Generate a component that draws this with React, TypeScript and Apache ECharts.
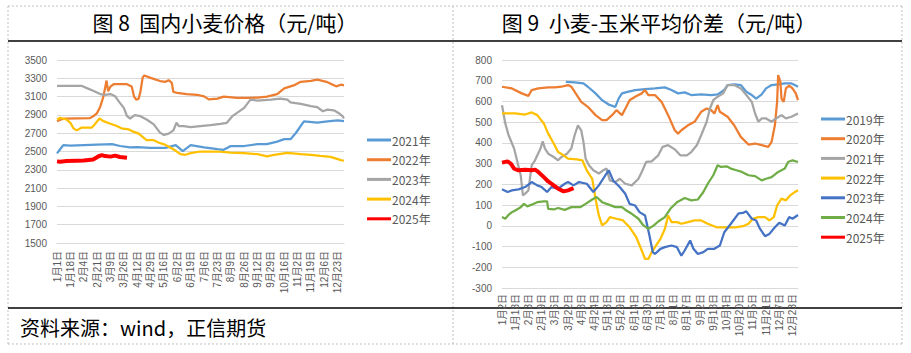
import React, { useEffect, useRef } from 'react';
import * as echarts from 'echarts';

// ---------- tick labels ----------
const leftTicks = ['1月1日', '1月18日', '2月4日', '2月21日', '3月9日', '3月26日', '4月12日', '4月29日', '5月16日', '6月2日', '6月19日', '7月6日', '7月23日', '8月9日', '8月26日', '9月12日', '9月29日', '10月16日', '11月2日', '11月19日', '12月6日', '12月23日'];
const rightTicks = ['1月2日', '1月18日', '2月3日', '2月19日', '3月6日', '3月22日', '4月8日', '4月24日', '5月13日', '5月29日', '6月14日', '6月30日', '7月16日', '8月1日', '8月17日', '9月2日', '9月18日', '10月4日', '10月20日', '11月5日', '11月21日', '12月7日', '12月23日'];
const LEFT_COUNT = 366;
const LEFT_STEP = 17;
const RIGHT_COUNT = 270;
const RIGHT_STEP = 12;

// ---------- 图8 国内小麦价格 [day index, 元/吨] ----------
const wheat2021 = [[0, 2480], [4, 2525], [8, 2570], [17, 2565], [34, 2570], [51, 2575], [70, 2580], [80, 2560], [93, 2545], [102, 2548], [119, 2540], [138, 2540], [151, 2570], [160, 2505], [170, 2570], [187, 2545], [204, 2525], [212, 2518], [221, 2560], [238, 2560], [255, 2580], [267, 2580], [280, 2608], [289, 2635], [297, 2635], [304, 2705], [314, 2830], [321, 2825], [331, 2815], [344, 2830], [357, 2840], [365, 2832]];
const wheat2022 = [[0, 2830], [5, 2850], [10, 2860], [42, 2865], [46, 2885], [51, 2920], [55, 2990], [59, 3100], [63, 3275], [65, 3160], [68, 3210], [72, 3235], [89, 3235], [95, 3210], [98, 3100], [101, 3065], [104, 3080], [106, 3150], [109, 3310], [111, 3330], [119, 3305], [131, 3270], [138, 3262], [142, 3280], [146, 3250], [148, 3150], [153, 3140], [165, 3128], [178, 3120], [187, 3103], [193, 3070], [204, 3078], [212, 3100], [229, 3085], [242, 3085], [255, 3090], [267, 3100], [280, 3128], [289, 3190], [301, 3222], [310, 3262], [323, 3272], [331, 3285], [344, 3258], [355, 3212], [361, 3230], [365, 3222]];
const wheat2023 = [[0, 3218], [31, 3218], [38, 3193], [46, 3164], [55, 3128], [61, 3120], [68, 3128], [74, 3103], [80, 3031], [85, 2977], [89, 2886], [93, 2861], [99, 2897], [106, 2886], [114, 2850], [123, 2796], [131, 2706], [136, 2681], [142, 2695], [148, 2731], [152, 2814], [155, 2778], [161, 2778], [170, 2767], [182, 2778], [195, 2789], [208, 2803], [216, 2814], [223, 2886], [229, 2922], [238, 2977], [246, 3067], [255, 3056], [272, 3067], [284, 3078], [293, 3067], [297, 3038], [310, 3020], [323, 2995], [331, 2984], [338, 2940], [344, 2958], [352, 2950], [358, 2922], [363, 2886], [365, 2861]];
const wheat2024 = [[0, 2850], [4, 2868], [12, 2850], [17, 2814], [21, 2753], [25, 2731], [31, 2760], [44, 2760], [48, 2796], [54, 2861], [59, 2832], [68, 2803], [76, 2778], [82, 2753], [91, 2742], [97, 2717], [104, 2695], [110, 2652], [114, 2623], [123, 2623], [129, 2598], [138, 2572], [148, 2525], [157, 2471], [163, 2464], [170, 2482], [182, 2500], [204, 2500], [221, 2489], [238, 2482], [255, 2471], [267, 2446], [276, 2464], [293, 2486], [310, 2471], [323, 2464], [335, 2453], [348, 2442], [361, 2406], [365, 2399]];
const wheat2025 = [[0, 2392], [4, 2388], [12, 2395], [25, 2400], [34, 2402], [46, 2412], [53, 2448], [57, 2460], [61, 2450], [68, 2444], [74, 2455], [80, 2440], [89, 2432]];

// ---------- 图9 小麦-玉米平均价差 [trading-day index, 元/吨] ----------
const spread2019 = [[58, 695], [66, 692], [74, 687], [78, 671], [85, 639], [91, 606], [97, 585], [103, 574], [106, 614], [109, 639], [115, 647], [121, 655], [130, 660], [139, 663], [148, 668], [154, 655], [160, 639], [166, 644], [172, 631], [181, 634], [190, 631], [196, 634], [202, 655], [205, 679], [211, 682], [217, 679], [222, 647], [227, 631], [231, 614], [236, 634], [240, 663], [245, 679], [251, 682], [257, 687], [263, 687], [266, 679], [269, 671]];
const spread2020 = [[0, 671], [9, 663], [18, 639], [24, 627], [27, 655], [33, 663], [42, 668], [48, 668], [54, 671], [60, 679], [63, 671], [68, 631], [72, 598], [78, 574], [85, 534], [91, 510], [95, 510], [100, 534], [104, 558], [109, 534], [113, 574], [116, 606], [121, 623], [127, 639], [130, 655], [133, 631], [139, 631], [145, 598], [151, 534], [157, 461], [160, 445], [163, 461], [169, 485], [175, 502], [181, 550], [186, 566], [190, 558], [193, 542], [196, 582], [198, 550], [205, 526], [211, 485], [217, 429], [224, 392], [230, 397], [236, 389], [242, 381], [245, 405], [248, 485], [250, 598], [251, 727], [253, 695], [254, 614], [256, 598], [258, 663], [261, 676], [264, 663], [267, 639], [269, 606]];
const spread2021 = [[0, 582], [3, 494], [6, 437], [11, 373], [14, 308], [17, 244], [19, 147], [21, 155], [24, 171], [27, 292], [30, 316], [35, 373], [37, 408], [39, 373], [42, 348], [47, 332], [51, 316], [54, 332], [59, 348], [63, 373], [66, 437], [69, 485], [72, 461], [74, 405], [76, 324], [79, 292], [83, 268], [88, 252], [92, 268], [95, 276], [98, 219], [103, 211], [107, 227], [112, 203], [118, 195], [124, 227], [127, 260], [131, 308], [136, 311], [142, 340], [146, 381], [151, 389], [157, 369], [162, 340], [168, 340], [172, 356], [177, 389], [181, 437], [186, 502], [189, 566], [192, 606], [196, 623], [201, 639], [205, 679], [211, 679], [217, 663], [222, 631], [227, 598], [230, 542], [233, 502], [236, 518], [240, 518], [245, 502], [249, 518], [254, 534], [258, 518], [263, 526], [269, 542]];
const spread2022 = [[0, 542], [12, 542], [21, 537], [27, 547], [32, 534], [38, 494], [42, 445], [47, 397], [51, 356], [56, 340], [60, 324], [68, 321], [73, 316], [77, 268], [82, 227], [85, 131], [88, 50], [91, 2], [95, 18], [98, 42], [104, 34], [110, 26], [116, -7], [122, -55], [127, -119], [130, -160], [133, -160], [136, -127], [139, -103], [144, -63], [148, -15], [151, 50], [154, 18], [159, 18], [163, 10], [169, 18], [175, 26], [181, 26], [187, 10], [195, -7], [202, -7], [212, -7], [219, -2], [224, 10], [228, 34], [233, 42], [239, 42], [243, 26], [247, 42], [250, 98], [254, 131], [258, 123], [262, 147], [266, 163], [269, 171]];
const spread2023 = [[0, 176], [5, 163], [9, 171], [15, 176], [21, 187], [27, 211], [32, 195], [36, 187], [41, 163], [45, 187], [51, 179], [57, 203], [60, 211], [65, 195], [70, 211], [77, 203], [83, 163], [88, 195], [94, 244], [97, 268], [101, 219], [107, 187], [112, 155], [116, 106], [121, 98], [125, 66], [130, 50], [134, -47], [137, -127], [139, -136], [144, -111], [148, -103], [154, -95], [159, -103], [163, -144], [166, -119], [171, -71], [174, -111], [178, -136], [183, -127], [187, -111], [193, -111], [198, -95], [202, -31], [208, 10], [215, 60], [219, 62], [222, 70], [227, 34], [231, 26], [234, -10], [239, -50], [243, -39], [248, -7], [252, 15], [257, 2], [261, 42], [264, 34], [269, 52]];
const spread2024 = [[0, 42], [3, 34], [6, 53], [9, 66], [12, 74], [17, 90], [20, 106], [23, 94], [27, 102], [32, 114], [38, 118], [41, 118], [42, 82], [47, 79], [51, 86], [57, 77], [63, 90], [71, 90], [76, 106], [82, 127], [86, 139], [91, 114], [97, 102], [103, 90], [109, 90], [113, 74], [118, 58], [124, 34], [128, 5], [133, -15], [138, 2], [142, 21], [148, 42], [153, 82], [159, 114], [166, 134], [172, 123], [178, 127], [183, 163], [187, 203], [192, 244], [196, 292], [199, 284], [204, 287], [208, 276], [213, 268], [218, 260], [224, 244], [230, 240], [236, 219], [240, 227], [245, 235], [251, 260], [257, 276], [260, 308], [264, 316], [269, 308]];
const spread2025 = [[0, 305], [5, 311], [8, 300], [11, 276], [15, 268], [21, 271], [27, 268], [30, 271], [33, 260], [38, 235], [42, 214], [47, 195], [51, 179], [56, 166], [60, 171], [65, 182]];

const leftSeries = [
  { name: 'A2021年', data: wheat2021, color: '#5B9BD5', width: 2.25 },
  { name: 'A2022年', data: wheat2022, color: '#ED7D31', width: 2.25 },
  { name: 'A2023年', data: wheat2023, color: '#A5A5A5', width: 2.25 },
  { name: 'A2024年', data: wheat2024, color: '#FFC000', width: 2.25 },
  { name: 'A2025年', data: wheat2025, color: '#FF0000', width: 4 },
];
const rightSeries = [
  { name: 'B2019年', data: spread2019, color: '#5B9BD5', width: 2.25 },
  { name: 'B2020年', data: spread2020, color: '#ED7D31', width: 2.25 },
  { name: 'B2021年', data: spread2021, color: '#A5A5A5', width: 2.25 },
  { name: 'B2022年', data: spread2022, color: '#FFC000', width: 2.25 },
  { name: 'B2023年', data: spread2023, color: '#4472C4', width: 2.25 },
  { name: 'B2024年', data: spread2024, color: '#70AD47', width: 2.25 },
  { name: 'B2025年', data: spread2025, color: '#FF0000', width: 4 },
];

const FONT = '"Liberation Sans", "Noto Sans CJK SC", sans-serif';
const CJK = '"Noto Sans CJK SC", sans-serif';
const GRID_COLOR = '#D9D9D9';
const LABEL_COLOR = '#595959';

export default function App() {
  const ref = useRef<HTMLDivElement>(null);
  useEffect(() => {
    if (!ref.current) return;
    const chart = echarts.init(ref.current, undefined, { renderer: 'svg' });
    const leftCats = Array.from({ length: LEFT_COUNT }, (_, i) => String(i));
    const rightCats = Array.from({ length: RIGHT_COUNT }, (_, i) => String(i));
    const dashed = { stroke: '#BFBFBF', lineWidth: 1, lineDash: [2, 2] };
    const solid = { stroke: '#000000', lineWidth: 1.5 };
    const mkSeries = (s: any, idx: number) => ({
      type: 'line',
      name: s.name,
      xAxisIndex: idx,
      yAxisIndex: idx,
      data: s.data,
      symbol: 'none',
      showSymbol: false,
      lineStyle: { color: s.color, width: s.width },
      itemStyle: { color: s.color },
    });
    const legendCommon = {
      orient: 'vertical',
      icon: 'rect',
      itemWidth: 24,
      itemHeight: 3,
      itemGap: 7.7,
      formatter: (n: string) => n.slice(1),
      textStyle: { fontSize: 12, color: LABEL_COLOR, fontFamily: CJK, padding: [0, 0, 0, -4] },
    };
    const yLabel = { margin: 10, fontSize: 10, color: LABEL_COLOR, fontFamily: FONT, formatter: (v: number) => String(v) };
    chart.setOption({
      animation: false,
      backgroundColor: '#ffffff',
      grid: [
        { left: 57, top: 60, width: 287, height: 183, containLabel: false, outerBoundsMode: 'none' },
        { left: 502, top: 60, width: 296, height: 228, containLabel: false, outerBoundsMode: 'none' },
      ],
      xAxis: [
        {
          gridIndex: 0,
          type: 'category',
          data: leftCats,
          boundaryGap: false,
          axisLine: { show: true, lineStyle: { color: GRID_COLOR } },
          axisTick: { show: false },
          splitLine: { show: false },
          axisLabel: {
            interval: LEFT_STEP - 1,
            rotate: 90,
            margin: 8,
            fontSize: 10,
            color: LABEL_COLOR,
            fontFamily: FONT,
            formatter: (v: string) => leftTicks[Number(v) / LEFT_STEP] ?? '',
          },
        },
        {
          gridIndex: 1,
          type: 'category',
          data: rightCats,
          boundaryGap: false,
          axisLine: { show: true, onZero: true, lineStyle: { color: GRID_COLOR } },
          axisTick: { show: false },
          splitLine: { show: false },
          axisLabel: {
            interval: RIGHT_STEP - 1,
            rotate: 90,
            margin: 6,
            fontSize: 10,
            color: LABEL_COLOR,
            fontFamily: FONT,
            formatter: (v: string) => rightTicks[Number(v) / RIGHT_STEP] ?? '',
          },
        },
      ],
      yAxis: [
        {
          gridIndex: 0,
          type: 'value',
          min: 1500,
          max: 3500,
          interval: 200,
          axisLine: { show: false },
          axisTick: { show: false },
          splitLine: { lineStyle: { color: GRID_COLOR, width: 1 } },
          axisLabel: yLabel,
        },
        {
          gridIndex: 1,
          type: 'value',
          min: -300,
          max: 800,
          interval: 100,
          axisLine: { show: false },
          axisTick: { show: false },
          splitLine: { lineStyle: { color: GRID_COLOR, width: 1 } },
          axisLabel: yLabel,
        },
      ],
      legend: [
        { ...legendCommon, left: 362, top: 129, data: leftSeries.map((s) => s.name) },
        { ...legendCommon, left: 816, top: 108, data: rightSeries.map((s) => s.name) },
      ],
      series: [...leftSeries.map((s) => mkSeries(s, 0)), ...rightSeries.map((s) => mkSeries(s, 1))],
      graphic: [
        { type: 'line', shape: { x1: 8, y1: 6, x2: 902, y2: 6 }, style: dashed, silent: true },
        { type: 'line', shape: { x1: 8, y1: 344, x2: 902, y2: 344 }, style: dashed, silent: true },
        { type: 'line', shape: { x1: 8, y1: 6, x2: 8, y2: 344 }, style: dashed, silent: true },
        { type: 'line', shape: { x1: 453, y1: 6, x2: 453, y2: 344 }, style: dashed, silent: true },
        { type: 'line', shape: { x1: 902, y1: 6, x2: 902, y2: 344 }, style: dashed, silent: true },
        { type: 'line', shape: { x1: 8, y1: 41, x2: 902, y2: 41 }, style: solid, silent: true },
        { type: 'line', shape: { x1: 8, y1: 308, x2: 902, y2: 308 }, style: solid, silent: true },
        {
          type: 'text', x: 225, y: 22, silent: true,
          style: { text: '图 8  国内小麦价格（元/吨）', fontSize: 21, fontFamily: CJK, fill: '#000000', textVerticalAlign: 'middle', textAlign: 'center' },
        },
        {
          type: 'text', x: 659, y: 22, silent: true,
          style: { text: '图 9  小麦-玉米平均价差（元/吨）', fontSize: 21, fontFamily: CJK, fill: '#000000', textVerticalAlign: 'middle', textAlign: 'center' },
        },
        {
          type: 'text', x: 20, y: 327, silent: true,
          style: { text: '资料来源：wind，正信期货', fontSize: 20, fontFamily: CJK, fill: '#000000', textVerticalAlign: 'middle', textAlign: 'left' },
        },
      ],
    });
    return () => chart.dispose();
  }, []);
  return (
    <div
      ref={ref}
      style={{ position: 'fixed', left: 0, top: 0, width: 911, height: 353, background: '#ffffff' }}
    />
  );
}
